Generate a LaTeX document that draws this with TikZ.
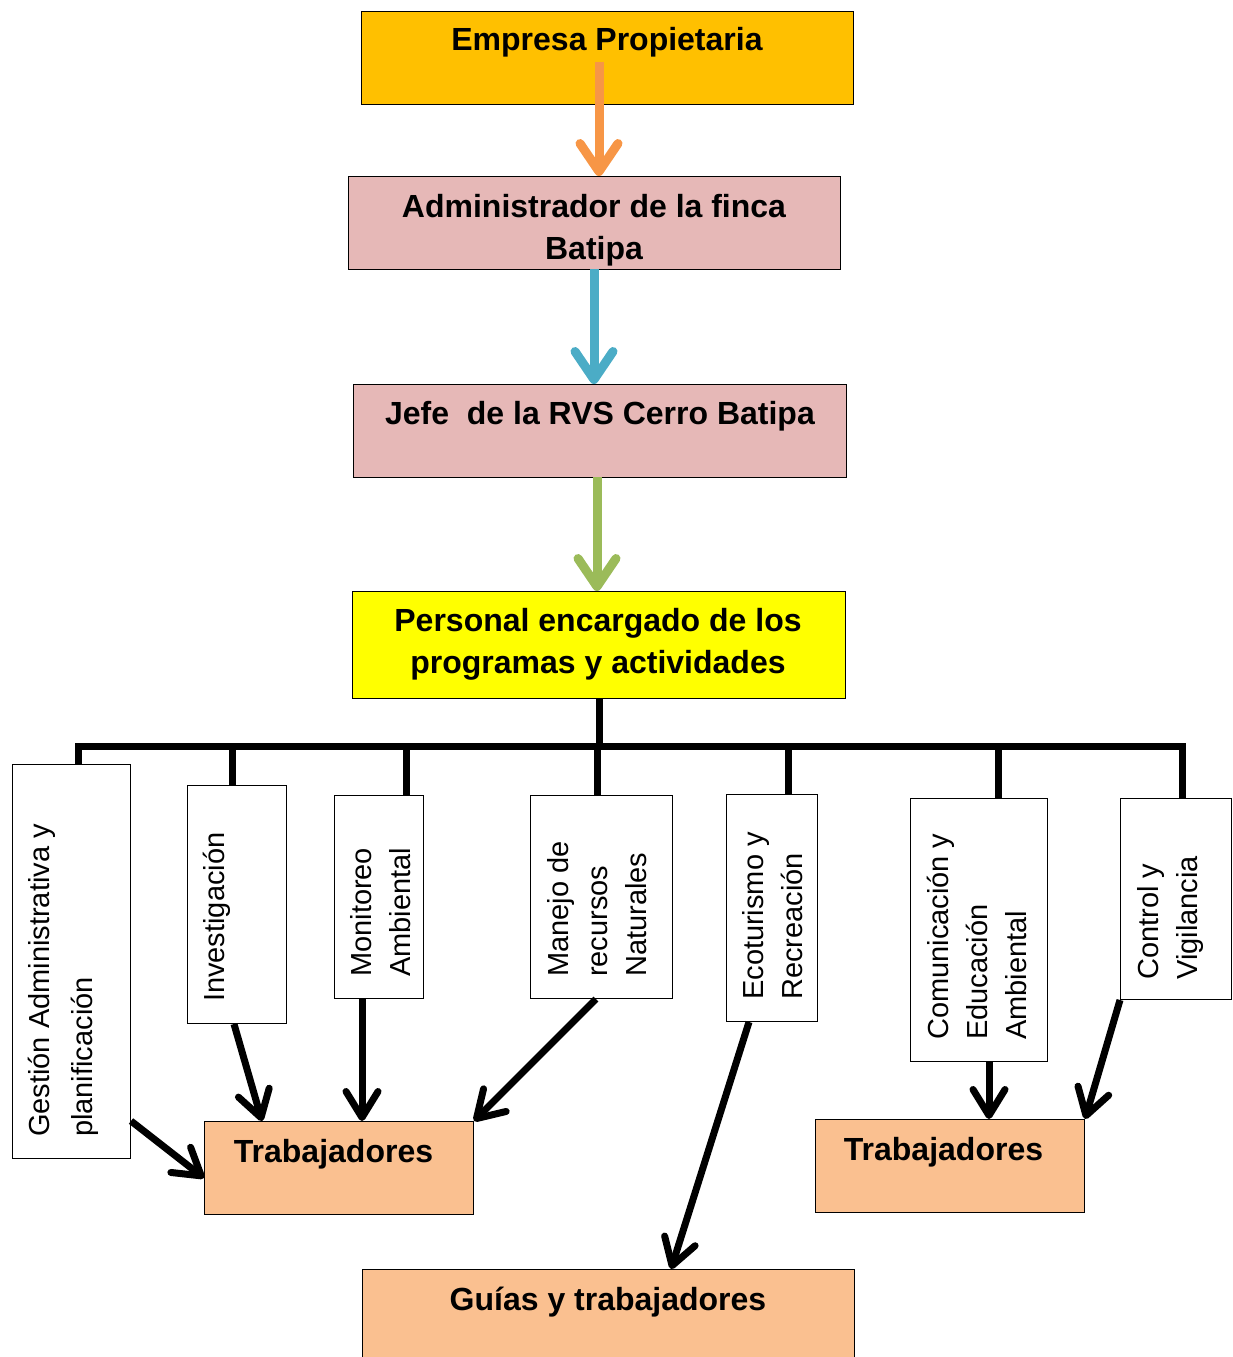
\documentclass[tikz,border=0pt]{standalone}
\usepackage{fontspec}
\setmainfont{Liberation Sans}
\usetikzlibrary{arrows.meta,calc}
\definecolor{gold}{HTML}{FFC000}
\definecolor{pinkbox}{HTML}{E6B8B7}
\definecolor{yelbox}{HTML}{FFFF00}
\definecolor{peach}{HTML}{FAC090}
\definecolor{arrorange}{HTML}{F79646}
\definecolor{arrblue}{HTML}{4BACC6}
\definecolor{arrgreen}{HTML}{9BBB59}
\begin{document}
\begin{tikzpicture}[x=1pt,y=-1pt,
  box/.style={draw=black,line width=1pt,inner sep=0pt,anchor=north west},
  bt/.style={font=\fontsize{32}{42}\bfseries\selectfont,inner sep=0pt,align=center},
  vt/.style={font=\fontsize{29}{39}\selectfont,inner sep=0pt,align=left,rotate=90,anchor=north west},
  carrow/.style={line width=9pt,-{Straight Barb[length=28pt,width=38pt,round]}},
  barrow/.style={line width=7pt,-{Straight Barb[length=26pt,width=32pt,round]}},
  bus/.style={line width=7pt,miter limit=10}]
\useasboundingbox (0,0) rectangle (1232,1357);
% main boxes
\node[box,fill=gold,minimum width=492pt,minimum height=93pt] (emp) at (361,11) {};
\node[box,fill=pinkbox,minimum width=492pt,minimum height=93pt] (adm) at (348,176) {};
\node[box,fill=pinkbox,minimum width=493pt,minimum height=93pt] (jefe) at (353,384) {};
\node[box,fill=yelbox,minimum width=493pt,minimum height=107pt] (pers) at (352,591) {};
% program boxes
\node[box,fill=white,minimum width=118pt,minimum height=394pt] (gest) at (12,764) {};
\node[box,fill=white,minimum width=99pt,minimum height=238pt] (inv) at (187,785) {};
\node[box,fill=white,minimum width=89pt,minimum height=203pt] (mon) at (334,795) {};
\node[box,fill=white,minimum width=142pt,minimum height=203pt] (man) at (530,795) {};
\node[box,fill=white,minimum width=91pt,minimum height=227pt] (eco) at (726,794) {};
\node[box,fill=white,minimum width=137pt,minimum height=263pt] (com) at (910,798) {};
\node[box,fill=white,minimum width=111pt,minimum height=201pt] (ctl) at (1120,798) {};
% worker boxes
\node[box,fill=peach,minimum width=269pt,minimum height=93pt] (tr1) at (204,1121) {};
\node[box,fill=peach,minimum width=269pt,minimum height=93pt] (tr2) at (815,1119) {};
\node[box,fill=peach,minimum width=492pt,minimum height=95pt] (gui) at (362,1269) {};
% coloured arrows
\coordinate (a1) at (599,62);
\coordinate (a2) at (594,269);
\coordinate (a3) at (597,477);
\draw[carrow,arrorange] (a1) -- (a1 |- adm.north);
\draw[carrow,arrblue] (a2) -- (a2 |- jefe.north);
\draw[carrow,arrgreen] (a3) -- (a3 |- pers.north);
% bus
\coordinate (b0) at (598,746);
\coordinate (bl) at (78,746);
\coordinate (br) at (1182,746);
\coordinate (d1) at (232,746);
\coordinate (d2) at (406,746);
\coordinate (d3) at (597,746);
\coordinate (d4) at (788,746);
\coordinate (d5) at (998,746);
\draw[bus] (pers.south) -- (pers.south |- b0);
\draw[bus] (bl |- gest.north) -- (bl) -- (br) -- (br |- ctl.north);
\draw[bus] (d1) -- (d1 |- inv.north);
\draw[bus] (d2) -- (d2 |- mon.north);
\draw[bus] (d3) -- (d3 |- man.north);
\draw[bus] (d4) -- (d4 |- eco.north);
\draw[bus] (d5) -- (d5 |- com.north);
% black arrows
\draw[barrow] (gest.east |- 0,1121) -- (tr1.west |- 0,1178);
\draw[barrow] (inv.south -| 234,0) -- (tr1.north -| 262,0);
\draw[barrow] (mon.south -| 362,0) -- (tr1.north -| 362,0);
\draw[barrow] (man.south -| 596,0) -- (tr1.north east);
\draw[barrow] (eco.south -| 749,0) -- (gui.north -| 671,0);
\draw[barrow] (com.south -| 989,0) -- (tr2.north -| 989,0);
\draw[barrow] (ctl.south west) -- (tr2.north east);
% texts
\node[bt,anchor=base] (temp) at (607,50) {Empresa Propietaria};
\node[bt,anchor=north] (tadm) at (594,194) {Administrador de la finca\\Batipa};
\node[bt,anchor=base] (tjefe) at (600,424) {Jefe\ \ de la RVS Cerro Batipa};
\node[bt,anchor=north] (tpers) at (598,608) {Personal encargado de los\\programas y actividades};
\node[bt,anchor=base] (ttr1) at (333.5,1162) {Trabajadores};
\node[bt,anchor=base] (ttr2) at (943.5,1160) {Trabajadores};
\node[bt,anchor=base] (tgui) at (608,1310) {Guías y trabajadores};
\node[vt,font=\fontsize{29}{43}\selectfont] (tgest) at (28,1137) {Gestión Administrativa y\\planificación};
\node[vt] (tinv) at (203,1002) {Investigación};
\node[vt] (tmon) at (350,977) {Monitoreo\\Ambiental};
\node[vt] (tman) at (547,977) {Manejo de\\recursos\\Naturales};
\node[vt] (teco) at (742,1000) {Ecoturismo y\\Recreación};
\node[vt] (tcom) at (927,1040) {Comunicación y\\Educación\\Ambiental};
\node[vt] (tctl) at (1137,980) {Control y\\Vigilancia};
\end{tikzpicture}
\end{document}
